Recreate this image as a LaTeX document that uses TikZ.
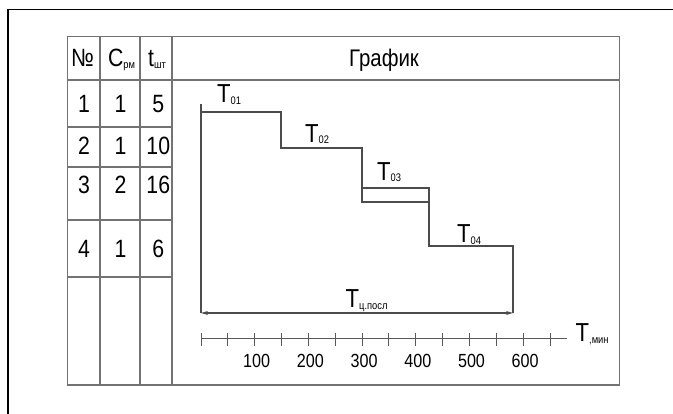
\documentclass[tikz,border=0pt]{standalone}
\usepackage{fontspec}
\setmainfont{Liberation Sans}[FakeStretch=0.85]
\usepackage{tikz}
\usetikzlibrary{positioning, arrows.meta}

% small index written next to a letter
\newcommand{\idx}[1]{{\fontsize{11}{11}\selectfont\raisebox{-1.5pt}{#1}}}

\begin{document}
\begin{tikzpicture}[
    x=1pt, y=-1pt,
    frame/.style={draw=black, line width=1.3pt},
    grid/.style={draw=black!55, line width=1.2pt},
    stepline/.style={draw=black!70, line width=1.1pt},
    axisline/.style={draw=black!65, line width=1pt},
    cell/.style={anchor=base, inner sep=0pt, font=\fontsize{25}{25}\selectfont},
    tlabel/.style={anchor=base west, inner sep=0pt, font=\fontsize{26}{26}\selectfont},
    ticklabel/.style={anchor=base, inner sep=0pt, font=\fontsize{19}{19}\selectfont}
]
\useasboundingbox (0,0) rectangle (673,414);

% Outer frame
\draw[frame] (8,414) -- (8,9.5) -- (673,9.5);

% Table
\draw[grid] (67.5,36.5) rectangle (619.5,385);
\foreach \x in {100,140,172}
    \draw[grid] (\x,36.5) -- (\x,385);
\draw[grid] (67.5,80) -- (619.5,80);
\foreach \y in {127,167,220,277}
    \draw[grid] (67.5,\y) -- (172,\y);

% Header
\node[cell] (hno) at (82.5,67) {№};
\node[cell] (hc) at (121.5,67) {C\idx{рм}};
\node[cell] (ht) at (157,67) {t\idx{шт}};
\node[cell, font=\fontsize{24}{24}\selectfont] (title) at (384,67) {График};

% Rows
\foreach \n/\c/\t/\y in {1/1/5/113, 2/1/10/155, 3/2/16/194, 4/1/6/258} {
    \node[cell] (n\n) at (84,\y) {\n};
    \node[cell] (c\n) at (120.5,\y) {\c};
    \node[cell] (t\n) at (158.3,\y) {\t};
}

% Steps of the graph
\coordinate (s0) at (201,104);
\coordinate (s1) at (201,112);
\coordinate (s2) at (281,112);
\coordinate (s3) at (281,148);
\coordinate (s4) at (362,148);
\coordinate (s5) at (362,202);
\coordinate (s6) at (429,202);
\coordinate (s7) at (429,246);
\coordinate (s8) at (513,246);
\coordinate (u1) at (362,188);
\coordinate (u2) at (429,188);
\coordinate (ta) at (201,313);
\coordinate (tb) at (513,313);

\draw[stepline] (s0) -- (ta);
\draw[stepline] (s1) -- (s2) -- (s3) -- (s4) -- (s5) -- (s6) -- (s7) -- (s8) -- (tb);
\draw[stepline] (u1) -- (u2) -- (s6);
\draw[stepline, {Stealth[length=7pt,width=4pt]}-{Stealth[length=7pt,width=4pt]}] (ta) -- (tb);

\node[tlabel] (t01) at (217,103) {T\idx{01}};
\node[tlabel] (t02) at (305,142.5) {T\idx{02}};
\node[tlabel] (t03) at (377,180.5) {T\idx{03}};
\node[tlabel] (t04) at (457,243) {T\idx{04}};
\node[tlabel] (tcyc) at (345.5,308) {T\idx{ц.посл}};

% Time axis
\coordinate (a0) at (201,339);
\coordinate (a1) at (567,339);
\draw[axisline] (a0) -- (a1);
\foreach \i in {0,...,13}
    \draw[axisline] (201+26.85*\i,333) -- (201+26.85*\i,346);
\foreach \v [count=\k] in {100,200,...,600}
    \node[ticklabel] (v\v) at (203+53.7*\k,368) {\v};
\node[tlabel] (tax) at (575.5,342) {T\idx{,мин}};

\end{tikzpicture}
\end{document}
